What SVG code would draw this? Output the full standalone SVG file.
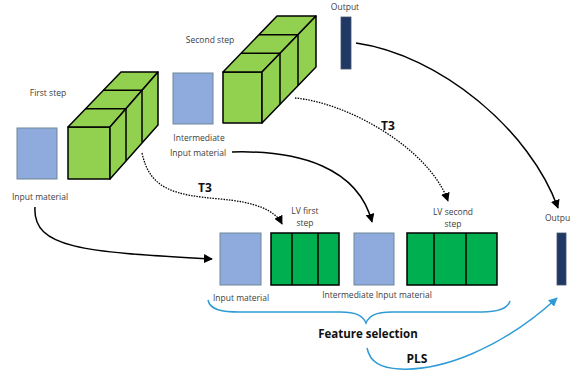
<svg xmlns="http://www.w3.org/2000/svg" width="572" height="371" viewBox="0 0 572 371">
<defs>
<style>
.lbl{font-family:"Open Sans","Liberation Sans",sans-serif;font-size:8.5px;fill:#404040;text-anchor:middle}
.bold{font-family:"Open Sans","Liberation Sans",sans-serif;font-weight:bold;fill:#111;text-anchor:middle}
.blue{fill:#8faadc;stroke:#6f8796;stroke-width:1}
.cube{fill:#92d050;stroke:#000;stroke-width:1.5;stroke-linejoin:round}
.lv{fill:#00b050;stroke:#000;stroke-width:1.5}
.out{fill:#1f3864;stroke:#44546a;stroke-width:0.8}
.conn{fill:none;stroke:#000;stroke-width:1.5}
.dot{fill:none;stroke:#000;stroke-width:1.3;stroke-dasharray:1.5 1.2}
.bl{fill:none;stroke:#2e9bd6;stroke-width:1.5}
</style>
<marker id="ah" viewBox="0 0 10 10" refX="9" refY="5" markerWidth="9" markerHeight="9" markerUnits="userSpaceOnUse" orient="auto"><path d="M0,0 L10,5 L0,10 z" fill="#000"/></marker>
<marker id="ahb" viewBox="0 0 10 10" refX="9" refY="5" markerWidth="9" markerHeight="9" markerUnits="userSpaceOnUse" orient="auto"><path d="M0,0 L10,5 L0,10 z" fill="#2e9bd6"/></marker>
</defs>
<rect width="572" height="371" fill="#fff"/>

<g id="input1">
<rect class="blue" x="17" y="128" width="40" height="51"/>
<text class="lbl" x="40" y="200">Input material</text>
</g>

<g id="cube1">
<text class="lbl" x="48" y="96">First step</text>
<rect class="cube" x="68" y="127" width="42" height="52"/>
<polygon class="cube" points="68,127 110,127 158,72 121,72"/>
<polygon class="cube" points="110,127 158,72 158,125 110,179"/>
<path d="M85.7,108.7 H126 V160.7 M103.3,90.3 H142 V142.3" fill="none" stroke="#000" stroke-width="1.5"/>
</g>

<g id="input2">
<rect class="blue" x="173" y="73" width="40" height="51"/>
<text class="lbl" x="199" y="141">Intermediate</text>
<text class="lbl" x="198" y="156">Input material</text>
</g>

<g id="cube2">
<text class="lbl" x="210" y="43">Second step</text>
<rect class="cube" x="223" y="72" width="39" height="51"/>
<polygon class="cube" points="223,72 262,72 316,16 277,16"/>
<polygon class="cube" points="262,72 316,16 316,67 262,123"/>
<path d="M241,53.3 H280 V104.3 M259,34.7 H298 V85.7" fill="none" stroke="#000" stroke-width="1.5"/>
</g>

<g id="output1">
<text class="lbl" x="345" y="10">Output</text>
<rect class="out" x="341" y="17" width="10" height="52"/>
</g>

<g id="bottom-input">
<rect class="blue" x="220" y="233" width="41" height="52"/>
<text class="lbl" x="241" y="301">Input material</text>
</g>

<g id="lv1">
<text class="lbl" x="305" y="214">LV first</text>
<text class="lbl" x="305" y="226">step</text>
<rect class="lv" x="271" y="233" width="68" height="52"/>
<path d="M292,233 V285 M318,233 V285" stroke="#000" stroke-width="1.5"/>
</g>

<g id="bottom-intermediate">
<rect class="blue" x="354" y="233" width="40" height="52"/>
<text class="lbl" x="377" y="298">Intermediate Input material</text>
</g>

<g id="lv2">
<text class="lbl" x="453" y="215">LV second</text>
<text class="lbl" x="453" y="227">step</text>
<rect class="lv" x="407" y="233" width="90" height="52"/>
<path d="M434,233 V285 M466,233 V285" stroke="#000" stroke-width="1.5"/>
</g>

<g id="output2">
<text class="lbl" x="545" y="221" style="text-anchor:start">Outpu</text>
<rect class="out" x="557" y="233" width="9" height="52"/>
</g>

<g id="feature-selection">
<path class="bl" d="M208,300 C210,310 222,312 240,312 L340,312 C357,312 363,316 366,323 C369,316 375,312 392,312 L482,312 C500,312 508,308 510,301"/>
<text class="bold" x="368" y="338" font-size="11.5">Feature selection</text>
</g>

<g id="connectors">
<path class="conn" d="M35,207 C32,250 90,252 212,259" marker-end="url(#ah)"/>
<path class="conn" d="M232,152 C300,150 358,168 372,222" marker-end="url(#ah)"/>
<path class="conn" d="M356,43 C440,55 530,130 558,208" marker-end="url(#ah)"/>
<path class="dot" d="M142,153 C150,190 175,195 220,199 C255,202 275,210 282,224" marker-end="url(#ah)"/>
<path class="dot" d="M295,98 C350,103 430,150 448,201" marker-end="url(#ah)"/>
<path class="bl" d="M367,348 C370,362 380,368 400,369 C440,371 500,350 557,298" marker-end="url(#ahb)"/>
<text class="bold" x="205" y="192" font-size="12">T3</text>
<text class="bold" x="388" y="130" font-size="12">T3</text>
<text class="bold" x="417" y="363" font-size="12">PLS</text>
</g>
</svg>
